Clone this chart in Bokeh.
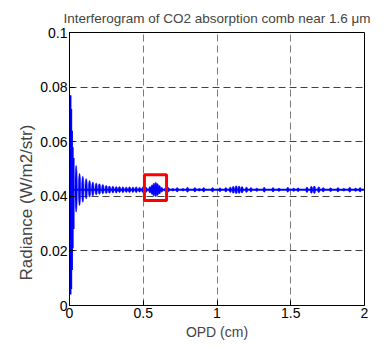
from bokeh.plotting import figure
from bokeh.models import Range1d, FixedTicker, Title
from bokeh.embed import file_html
from bokeh.resources import INLINE

# ---- data ----
x_ticks = [0, 0.5, 1, 1.5, 2]
x_tick_labels = ["0", "0.5", "1", "1.5", "2"]
y_ticks = [0, 0.02, 0.04, 0.06, 0.08, 0.1]
y_tick_labels = ["0", "0.02", "0.04", "0.06", "0.08", "0.1"]

# central burst near zero path difference
spike_opd = [0.003, 0.008, 0.013, 0.018, 0.024]
spike_hi = [0.077, 0.072, 0.064, 0.058, 0.054]
spike_lo = [0.004, 0.006, 0.013, 0.021, 0.028]

# flat trace (mean radiance level)
trace_opd = [0.0, 2.0]
trace_rad = [0.0424, 0.0424]

# fringe lobes: OPD, top and bottom of each lobe
lobe_opd = [0.045, 0.068, 0.090, 0.113, 0.136, 0.158, 0.181, 0.203, 0.226,
            0.249, 0.271, 0.294, 0.317, 0.339, 0.362, 0.385, 0.407, 0.430,
            0.452, 0.475, 0.497, 0.520, 0.545, 0.560, 0.572, 0.585, 0.597,
            0.610, 0.625,
            0.650, 0.670, 0.700, 0.730, 0.770, 0.800, 0.850, 0.880, 0.910,
            0.970, 1.020, 1.060, 1.090, 1.110, 1.130, 1.150, 1.170, 1.200,
            1.230, 1.270, 1.320, 1.380, 1.420, 1.480, 1.520, 1.550, 1.610,
            1.640, 1.660, 1.690, 1.720, 1.770, 1.820, 1.860, 1.900, 1.940,
            1.970]
lobe_hi = [0.0513, 0.0484, 0.0473, 0.0465, 0.0458, 0.0452, 0.0449, 0.0446, 0.0443,
           0.0440, 0.0438, 0.0437, 0.0436, 0.0436, 0.0435, 0.0434, 0.0435, 0.0434,
           0.0435, 0.0433, 0.0434, 0.0433, 0.0436, 0.0442, 0.0449, 0.0452, 0.0447,
           0.0440, 0.0433,
           0.0430, 0.0432, 0.0429, 0.0432, 0.0429, 0.0433, 0.0432, 0.0429, 0.0432,
           0.0432, 0.0431, 0.0432, 0.0434, 0.0437, 0.0439, 0.0438, 0.0436, 0.0434,
           0.0432, 0.0430, 0.0433, 0.0432, 0.0430, 0.0433, 0.0430, 0.0431, 0.0434,
           0.0437, 0.0438, 0.0435, 0.0432, 0.0431, 0.0432, 0.0429, 0.0433, 0.0430,
           0.0432]
lobe_lo = [0.0342, 0.0366, 0.0378, 0.0390, 0.0397, 0.0401, 0.0405, 0.0407, 0.0409,
           0.0410, 0.0411, 0.0412, 0.0412, 0.0413, 0.0413, 0.0414, 0.0413, 0.0414,
           0.0413, 0.0415, 0.0414, 0.0415, 0.0412, 0.0406, 0.0400, 0.0398, 0.0402,
           0.0408, 0.0415,
           0.0418, 0.0416, 0.0419, 0.0416, 0.0419, 0.0415, 0.0416, 0.0419, 0.0416,
           0.0416, 0.0417, 0.0416, 0.0414, 0.0411, 0.0409, 0.0410, 0.0412, 0.0414,
           0.0416, 0.0418, 0.0415, 0.0416, 0.0418, 0.0415, 0.0418, 0.0417, 0.0414,
           0.0411, 0.0410, 0.0413, 0.0416, 0.0417, 0.0416, 0.0419, 0.0415, 0.0418,
           0.0416]

# highlighted region (red box)
box_opd = [0.508, 0.658]
box_rad = [0.0385, 0.0479]

# ---- styling ----
FONT = "'Liberation Sans', Arial, sans-serif"
BLUE = "#0000ff"

p = figure(width=380, height=344, output_backend="svg", toolbar_location=None,
           x_range=Range1d(0, 2), y_range=Range1d(0, 0.1),
           min_border_left=69, min_border_right=16, min_border_top=32,
           min_border_bottom=39)
p.background_fill_color = "white"
p.border_fill_color = "white"
p.outline_line_color = "black"
p.outline_line_alpha = 1.0
p.outline_line_width = 1

p.title.text = "Interferogram of CO2 absorption comb near 1.6 \u03bcm"
p.title.text_font = FONT
p.title.text_font_size = "13.5px"
p.title.text_font_style = "normal"
p.title.align = "center"
p.title.offset = -3
p.title.standoff = 13

for ax, ticks, labels in ((p.xaxis[0], x_ticks, x_tick_labels),
                          (p.yaxis[0], y_ticks, y_tick_labels)):
    ax.ticker = FixedTicker(ticks=ticks)
    ax.major_label_overrides = dict(zip(ticks, labels))
    ax.major_label_text_font = FONT
    ax.major_label_text_font_size = "14px"
    ax.major_label_text_color = "black"
    ax.major_tick_in = 5
    ax.major_tick_out = 0
    ax.minor_tick_in = 0
    ax.minor_tick_out = 0
    ax.axis_line_color = "black"
    ax.major_tick_line_color = "black"
    ax.major_label_standoff = 2

p.xaxis.axis_label = "OPD (cm)"
p.xaxis.axis_label_text_font = FONT
p.xaxis.axis_label_text_font_size = "14px"
p.xaxis.axis_label_text_font_style = "normal"
p.xaxis.axis_label_standoff = 3

ylab = Title(text="Radiance (W/m2/str)", align="left", text_font=FONT,
             text_font_size="17px", text_font_style="normal", standoff=4,
             offset=25)
p.add_layout(ylab, "left")

p.xgrid.ticker = FixedTicker(ticks=x_ticks)
p.ygrid.ticker = FixedTicker(ticks=y_ticks)
p.xgrid.grid_line_color = "#7a7a7a"
p.ygrid.grid_line_color = "#404040"
p.grid.grid_line_dash = "7 4"
p.grid.grid_line_width = 1
p.grid.grid_line_alpha = 1.0

# ---- marks ----
p.line(trace_opd, trace_rad, line_color=BLUE, line_width=2)
p.segment(x0=spike_opd, y0=spike_lo, x1=spike_opd, y1=spike_hi,
          line_color=BLUE, line_width=3)
lobe_mid = [(h + l) / 2 for h, l in zip(lobe_hi, lobe_lo)]
lobe_h = [h - l for h, l in zip(lobe_hi, lobe_lo)]
p.ellipse(x=lobe_opd, y=lobe_mid, width=0.016, height=lobe_h,
          fill_color=BLUE, line_color=BLUE, line_width=0.5)

p.quad(left=[box_opd[0]], right=[box_opd[1]], bottom=[box_rad[0]], top=[box_rad[1]],
       fill_color=None, line_color="#ff0000", line_width=3)

open("out.html", "w").write(file_html(p, INLINE))
